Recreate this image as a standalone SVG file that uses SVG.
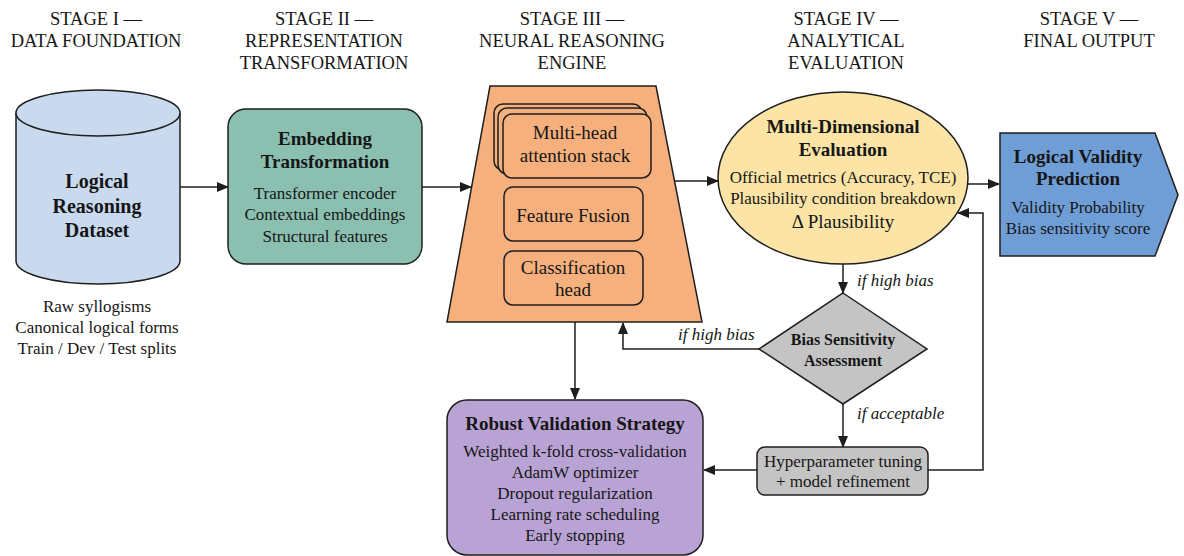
<svg xmlns="http://www.w3.org/2000/svg" width="1184" height="556" viewBox="0 0 1184 556">
<defs>
<marker id="ah" markerWidth="12" markerHeight="10" refX="11" refY="5" orient="auto" markerUnits="userSpaceOnUse">
<path d="M0,0 L12,5 L0,10 Z" fill="#1e1e1e"/>
</marker>
<style>
text{font-family:"Liberation Serif","Times New Roman",serif;fill:#161616;text-anchor:middle}
.hd{font-size:18.5px}
.t{font-size:20px;font-weight:bold}
.t19{font-size:19px;font-weight:bold}
.b{font-size:17px}
.m{font-size:19px}
.i{font-size:17px;font-style:italic;text-anchor:start}
.sh{stroke:#1e1e1e;stroke-width:1.5}
.ln{fill:none;stroke:#1e1e1e;stroke-width:1.5;marker-end:url(#ah)}
</style>
</defs>
<rect width="1184" height="556" fill="#ffffff"/>

<g id="headers">
<text class="hd" x="96" y="25">STAGE I —</text>
<text class="hd" x="96" y="47">DATA FOUNDATION</text>
<text class="hd" x="324" y="25">STAGE II —</text>
<text class="hd" x="324" y="47">REPRESENTATION</text>
<text class="hd" x="324" y="69">TRANSFORMATION</text>
<text class="hd" x="572" y="25">STAGE III —</text>
<text class="hd" x="572" y="47">NEURAL REASONING</text>
<text class="hd" x="572" y="69">ENGINE</text>
<text class="hd" x="846" y="25">STAGE IV —</text>
<text class="hd" x="846" y="47">ANALYTICAL</text>
<text class="hd" x="846" y="69">EVALUATION</text>
<text class="hd" x="1089" y="25">STAGE V —</text>
<text class="hd" x="1089" y="47">FINAL OUTPUT</text>
</g>

<g id="connectors">
<line class="ln" x1="180" y1="187" x2="228" y2="187"/>
<line class="ln" x1="422" y1="187" x2="471" y2="187"/>
<line class="ln" x1="674" y1="181" x2="718" y2="181"/>
<line class="ln" x1="968" y1="184" x2="999" y2="184"/>
<polyline class="ln" points="928,470 983,470 983,213 958,213"/>
<line class="ln" x1="843" y1="264" x2="843" y2="293"/>
<polyline class="ln" points="759,349 623,349 623,323"/>
<line class="ln" x1="843" y1="404" x2="843" y2="447"/>
<line class="ln" x1="757" y1="470" x2="704" y2="470"/>
<line class="ln" x1="575" y1="322" x2="575" y2="399"/>
<text class="i" x="857" y="286">if high bias</text>
<text class="i" x="678" y="340">if high bias</text>
<text class="i" x="857" y="419">if acceptable</text>
</g>

<g id="dataset">
<path class="sh" d="M16,113 L16,261 A82,23 0 0 0 180,261 L180,113" fill="#c9daef"/>
<ellipse class="sh" cx="98" cy="113" rx="82" ry="23" fill="#c9daef"/>
<text class="t" x="97" y="188">Logical</text>
<text class="t" x="97" y="213">Reasoning</text>
<text class="t" x="97" y="237">Dataset</text>
<text class="b" x="97" y="312">Raw syllogisms</text>
<text class="b" x="97" y="333">Canonical logical forms</text>
<text class="b" x="97" y="354">Train / Dev / Test splits</text>
</g>

<g id="embedding">
<rect class="sh" x="228" y="109" width="194" height="155" rx="18" fill="#8bbfb0"/>
<text class="t19" x="325" y="145">Embedding</text>
<text class="t19" x="325" y="168">Transformation</text>
<text class="b" x="325" y="199">Transformer encoder</text>
<text class="b" x="325" y="220">Contextual embeddings</text>
<text class="b" x="325" y="242">Structural features</text>
</g>

<g id="engine">
<path class="sh" d="M490,86 L656,86 L702,322 L447,322 Z" fill="#f5b07d"/>
<rect class="sh" x="494" y="104" width="148" height="66" rx="9" fill="#f5b07d"/>
<rect class="sh" x="498" y="108" width="149" height="66" rx="9" fill="#f5b07d"/>
<rect class="sh" x="503" y="114" width="148" height="64" rx="9" fill="#f5b07d"/>
<text class="m" x="575" y="139">Multi-head</text>
<text class="m" x="575" y="162">attention stack</text>
<rect class="sh" x="504" y="187" width="139" height="54" rx="9" fill="#f5b07d"/>
<text class="m" x="573" y="222">Feature Fusion</text>
<rect class="sh" x="504" y="251" width="139" height="54" rx="9" fill="#f5b07d"/>
<text class="m" x="573" y="274">Classification</text>
<text class="m" x="573" y="296">head</text>
</g>

<g id="evaluation">
<ellipse class="sh" cx="843" cy="178" rx="125" ry="86" fill="#fbe4a5"/>
<text class="t19" x="843" y="133">Multi-Dimensional</text>
<text class="t19" x="843" y="156">Evaluation</text>
<text class="b" x="843" y="183">Official metrics (Accuracy, TCE)</text>
<text class="b" x="843" y="204">Plausibility condition breakdown</text>
<text class="m" x="843" y="228">Δ Plausibility</text>
</g>

<g id="prediction">
<path class="sh" d="M1000,133 L1155,133 L1178,195 L1155,256 L1000,256 Z" fill="#6f9ed6"/>
<text class="t19" x="1078" y="163">Logical Validity</text>
<text class="t19" x="1078" y="185">Prediction</text>
<text class="b" x="1078" y="213">Validity Probability</text>
<text class="b" x="1078" y="234">Bias sensitivity score</text>
</g>

<g id="bias">
<path class="sh" d="M843,293 L927,349 L843,404 L759,349 Z" fill="#c4c4c4"/>
<text x="843" y="345" style="font-size:16px;font-weight:bold">Bias Sensitivity</text>
<text x="843" y="366" style="font-size:16px;font-weight:bold">Assessment</text>
</g>

<g id="tuning">
<rect class="sh" x="757" y="447" width="171" height="48" rx="8" fill="#c4c4c4"/>
<text class="b" x="843" y="467">Hyperparameter tuning</text>
<text class="b" x="843" y="487">+ model refinement</text>
</g>

<g id="validation">
<rect class="sh" x="447" y="400" width="256" height="155" rx="20" fill="#b9a3d4"/>
<text class="t19" x="575" y="430">Robust Validation Strategy</text>
<text class="b" x="575" y="457">Weighted k-fold cross-validation</text>
<text class="b" x="575" y="478">AdamW optimizer</text>
<text class="b" x="575" y="499">Dropout regularization</text>
<text class="b" x="575" y="520">Learning rate scheduling</text>
<text class="b" x="575" y="541">Early stopping</text>
</g>
</svg>
